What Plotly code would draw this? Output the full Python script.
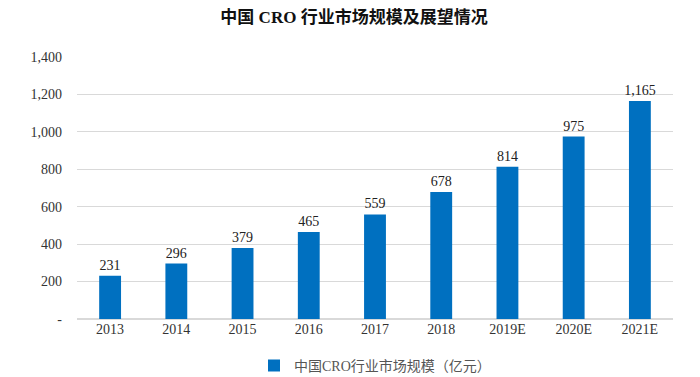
import plotly.graph_objects as go

categories = ["2013", "2014", "2015", "2016", "2017", "2018", "2019E", "2020E", "2021E"]
values = [231, 296, 379, 465, 559, 678, 814, 975, 1165]
series_name = "中国CRO行业市场规模（亿元）"
title_text = "中国 CRO 行业市场规模及展望情况"
y_ticks = [0, 200, 400, 600, 800, 1000, 1200, 1400]
y_ticklabels = ["-", "200", "400", "600", "800", "1,000", "1,200", "1,400"]

font_family = "Liberation Serif, Times New Roman, Noto Sans CJK SC, serif"

fig = go.Figure()
fig.add_trace(go.Bar(
    x=categories, y=values, name=series_name,
    marker=dict(color="#0070C0", line=dict(width=0)),
    text=[f"{v:,}" for v in values], textposition="outside", constraintext="none",
    textfont=dict(size=14, color="#222222", family=font_family),
    cliponaxis=False, showlegend=True,
))
fig.update_layout(
    width=692, height=369,
    margin=dict(l=69, r=27, t=49, b=58, autoexpand=False),
    paper_bgcolor="white", plot_bgcolor="white",
    title=dict(text="<b>" + title_text + "</b>", x=0.5, xanchor="center", y=0.975, yanchor="middle",
               font=dict(size=17, color="#111111", family=font_family)),
    bargap=0.67,
    font=dict(family=font_family, size=14, color="#333333"),
    xaxis=dict(showgrid=False, showline=False, ticks="", tickfont=dict(size=14, color="#333333")),
    yaxis=dict(range=[0, 1400], tickvals=y_ticks, ticktext=y_ticklabels,
               showgrid=True, gridcolor="#D9D9D9", gridwidth=1, zeroline=True, zerolinecolor="#D9D9D9",
               showline=False, ticks="", ticklabelstandoff=14,
               tickfont=dict(size=14, color="#333333")),
    legend=dict(orientation="h", x=0.5, xanchor="center", y=-0.179, yanchor="middle",
                itemwidth=30,
                font=dict(size=14, color="#555555", family=font_family)),
)
fig.write_html("out.html")
